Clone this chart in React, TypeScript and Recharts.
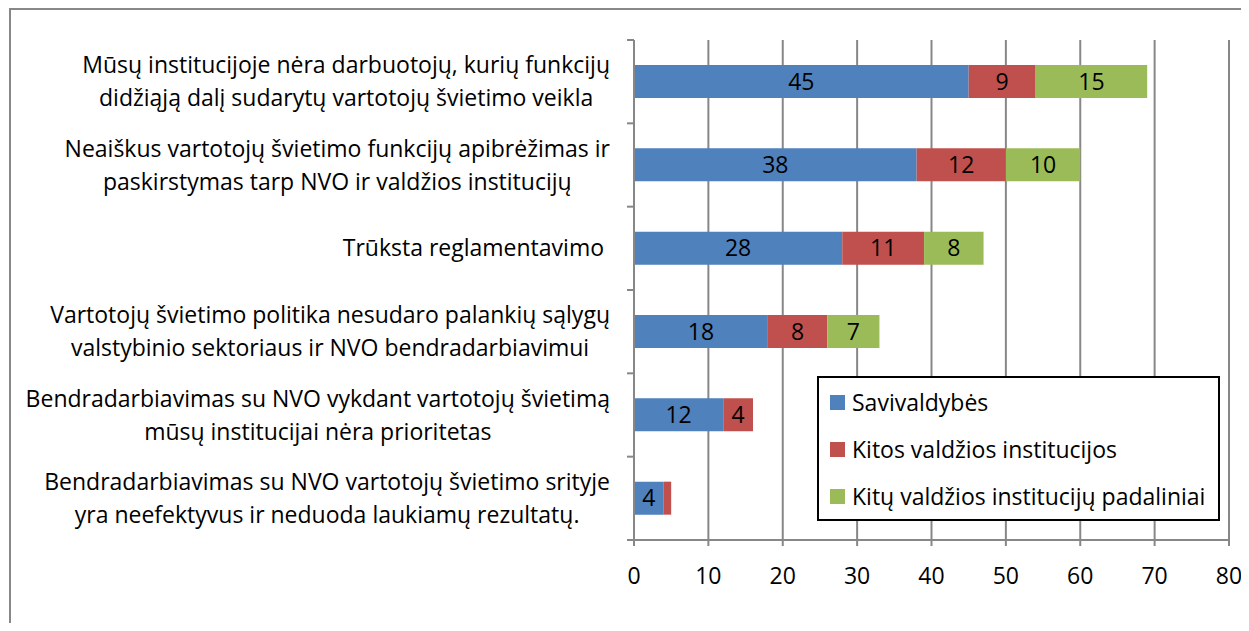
import React from 'react';
import { BarChart, Bar, XAxis, YAxis, CartesianGrid, LabelList, Legend } from 'recharts';

// category labels (top to bottom), line breaks as in the source chart
const categories = [
  'Mūsų institucijoje nėra darbuotojų, kurių funkcijų\ndidžiąją dalį sudarytų vartotojų švietimo veikla',
  'Neaiškus vartotojų švietimo funkcijų apibrėžimas ir\npaskirstymas tarp NVO ir valdžios institucijų',
  'Trūksta reglamentavimo ',
  'Vartotojų švietimo politika nesudaro palankių sąlygų\nvalstybinio sektoriaus ir NVO bendradarbiavimui',
  'Bendradarbiavimas su NVO vykdant vartotojų švietimą\nmūsų institucijai nėra prioritetas',
  'Bendradarbiavimas su NVO vartotojų švietimo srityje\nyra neefektyvus ir neduoda laukiamų rezultatų.',
];
const savivaldybes = [45, 38, 28, 18, 12, 4];
const kitosInstitucijos = [9, 12, 11, 8, 4, 1];
const kituPadaliniai = [15, 10, 8, 7, 0, 0];
const xTicks = [0, 10, 20, 30, 40, 50, 60, 70, 80];

const series = [
  { key: 'sav', name: 'Savivaldybės', color: '#4F81BD' },
  { key: 'kit', name: 'Kitos valdžios institucijos', color: '#C0504D' },
  { key: 'pad', name: 'Kitų valdžios institucijų padaliniai', color: '#9BBB59' },
];

const data = categories.map((c, i) => ({
  name: c,
  sav: savivaldybes[i],
  kit: kitosInstitucijos[i],
  pad: kituPadaliniai[i],
}));

const FAMILY = 'Open Sans';
const FONT = `"${FAMILY}", sans-serif`;
const FS = 23;
const W = 1241;
const H = 615;
const M = { top: 32, right: 20, bottom: 23, left: 0 };
const Y_WIDTH = 626;
const X_HEIGHT = 60;
const PLOT_H = H - M.top - M.bottom - X_HEIGHT;
const BAND = PLOT_H / categories.length;
const GRID = '#878787';

let ctx: CanvasRenderingContext2D | null = null;
const measure = (s: string, size: number) => {
  if (!ctx) ctx = document.createElement('canvas').getContext('2d');
  if (!ctx) return s.length * size * 0.5;
  ctx.font = `${size}px "${FAMILY}"`;
  return ctx.measureText(s).width;
};

const CategoryTick = (props: any) => {
  const { x, y, payload, index } = props;
  const lines = String(payload.value).split('\n');
  const maxW = Math.max(...lines.map((l) => measure(l, FS)));
  const cx = x - 24 - maxW / 2;
  const lh = 33;
  return (
    <g>
      <line x1={x} x2={x - 7} y1={y - BAND / 2} y2={y - BAND / 2} stroke={GRID} strokeWidth={2} />
      {index === categories.length - 1 && (
        <line x1={x} x2={x - 7} y1={y + BAND / 2} y2={y + BAND / 2} stroke={GRID} strokeWidth={2} />
      )}
      <text textAnchor="middle" fontSize={FS} fontFamily={FONT} fill="#000">
        {lines.map((l, i) => (
          <tspan key={i} x={cx} y={y + (i - (lines.length - 1) / 2) * lh} dy="0.35em" xmlSpace="preserve">
            {l}
          </tspan>
        ))}
      </text>
    </g>
  );
};

const LegendBox = () => (
  <div
    style={{
      border: '2px solid #000',
      width: 399,
      height: 141,
      boxSizing: 'content-box',
      fontFamily: FONT,
      fontSize: FS,
      background: '#fff',
      position: 'relative',
    }}
  >
    {series.map((s, i) => (
      <div
        key={s.key}
        style={{ position: 'absolute', left: 11, top: 24 + i * 47 - 14, height: 28, display: 'flex', alignItems: 'center' }}
      >
        <span style={{ width: 15, height: 15, background: s.color, display: 'inline-block', marginRight: 7 }} />
        <span style={{ whiteSpace: 'nowrap' }}>{s.name}</span>
      </div>
    ))}
  </div>
);

const hideSmall = (v: any) => (Number(v) > 1 ? v : '');

export default function App() {
  return (
    <div style={{ position: 'relative', width: W, height: H, overflow: 'hidden' }}>
      <div
        style={{
          position: 'absolute',
          left: 1,
          top: 0,
          width: 1400,
          height: 800,
          borderLeft: '2px solid #888',
          borderTop: '2px solid #888',
        }}
      />
      <div style={{ position: 'absolute', left: 0, top: 0 }}>
        <BarChart width={W} height={H} data={data} layout="vertical" margin={M} barSize={33}>
          <CartesianGrid horizontal={false} stroke={GRID} strokeWidth={2} />
          <XAxis
            type="number"
            domain={[0, 80]}
            ticks={xTicks}
            interval={0}
            height={X_HEIGHT}
            tickSize={6}
            tickMargin={22}
            axisLine={{ stroke: GRID, strokeWidth: 2 }}
            tickLine={{ stroke: GRID, strokeWidth: 2 }}
            tick={{ fill: '#000', fontSize: FS, fontFamily: FONT }}
          />
          <YAxis
            type="category"
            dataKey="name"
            width={Y_WIDTH}
            interval={0}
            tickLine={false}
            tickSize={0}
            tickMargin={0}
            axisLine={{ stroke: GRID, strokeWidth: 2 }}
            tick={<CategoryTick />}
          />
          <Legend
            layout="vertical"
            align="center"
            verticalAlign="middle"
            content={<LegendBox />}
            wrapperStyle={{ position: 'absolute', left: 809, top: 368, width: 403, height: 145 }}
          />
          {series.map((s) => (
            <Bar key={s.key} dataKey={s.key} name={s.name} stackId="a" fill={s.color} isAnimationActive={false}>
              <LabelList
                dataKey={s.key}
                position="center"
                formatter={hideSmall}
                fill="#000"
                fontSize={FS}
                fontFamily={FONT}
              />
            </Bar>
          ))}
        </BarChart>
      </div>
    </div>
  );
}
